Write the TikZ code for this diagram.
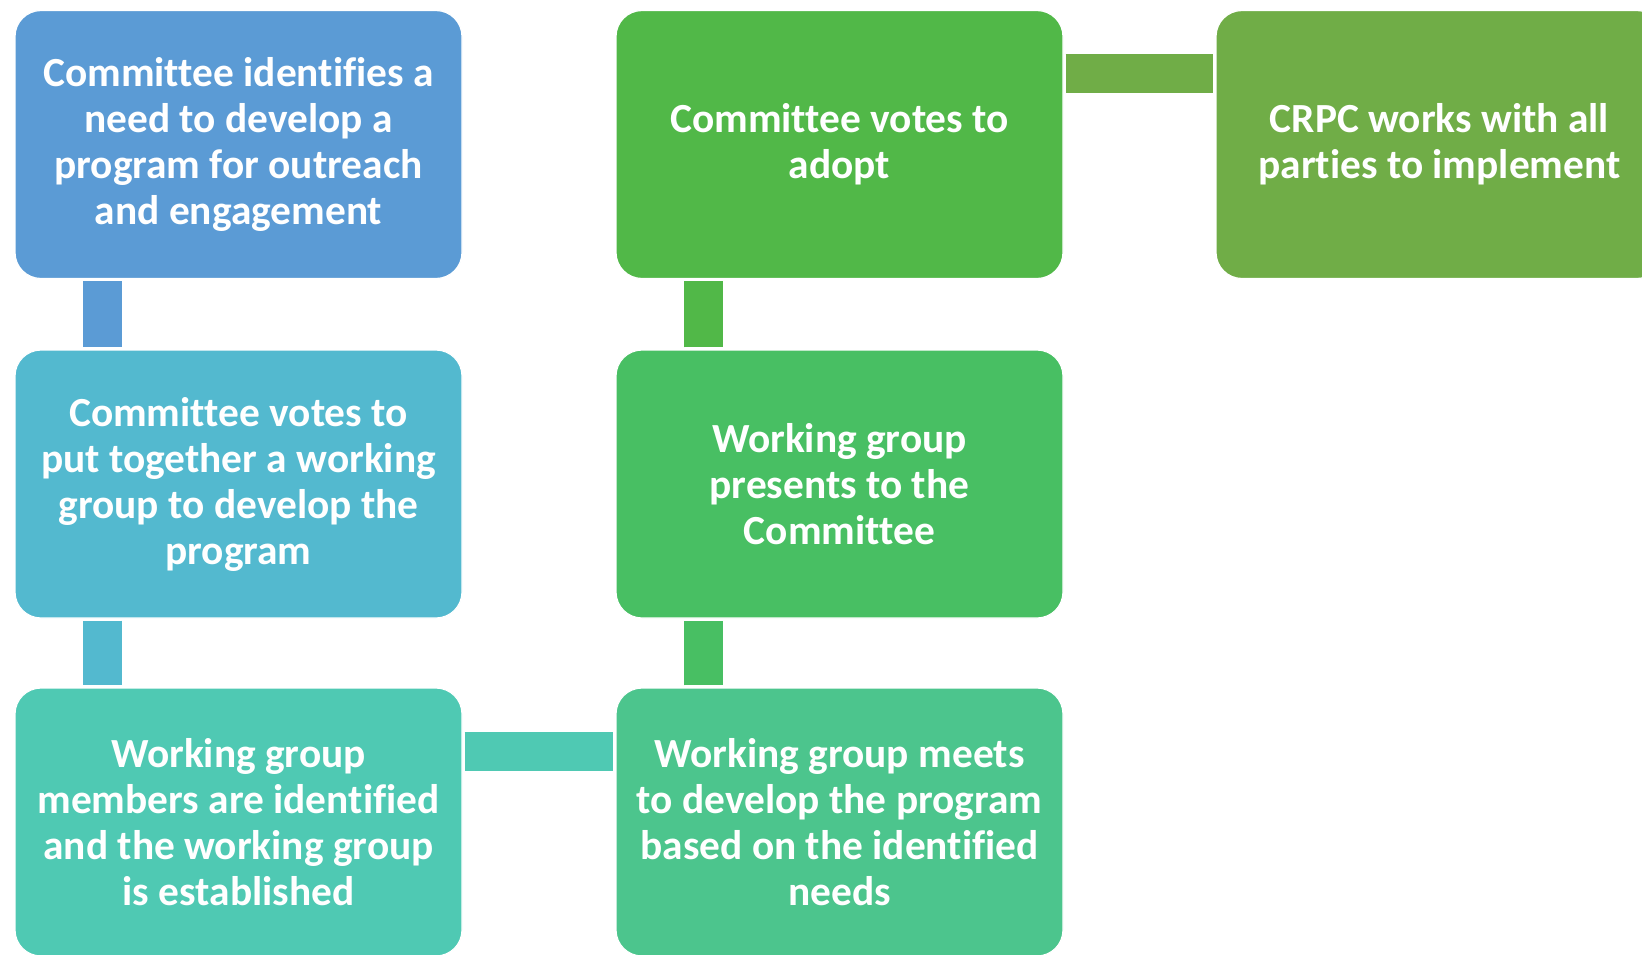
\documentclass[tikz,border=0pt]{standalone}
\usepackage{fontspec}
\setmainfont{Carlito}[Ligatures=CommonOff]

\definecolor{stepblue}{HTML}{5B9BD5}
\definecolor{stepcyan}{HTML}{53B9CF}
\definecolor{stepteal}{HTML}{4FC9B3}
\definecolor{stepmint}{HTML}{4CC58D}
\definecolor{stepgreen}{HTML}{48BF63}
\definecolor{steplime}{HTML}{51B848}
\definecolor{stepolive}{HTML}{70AD47}

\begin{document}
\begin{tikzpicture}[x=0.5pt, y=-0.5pt,
  font=\fontsize{20.7}{23}\selectfont\bfseries,
  stepbox/.style={rectangle, rounded corners=13pt, draw=white, line width=0.6pt,
    text=white, align=center, minimum width=223.5pt, minimum height=134pt, inner sep=0pt},
  link/.style={line width=19.5pt}]
  \useasboundingbox (0,0) rectangle (1642,954);

  \node[stepbox, fill=stepblue] (need) at (238.5,144.5)
    {Committee identifies a\\need to develop a\\program for outreach\\and engagement};
  \node[stepbox, fill=stepcyan] (vote) at (238.5,484)
    {Committee votes to\\put together a working\\group to develop the\\program};
  \node[stepbox, fill=stepteal] (members) at (238.5,822)
    {Working group\\members are identified\\and the working group\\is established};
  \node[stepbox, fill=stepmint] (meets) at (839.5,822)
    {Working group meets\\to develop the program\\based on the identified\\needs};
  \node[stepbox, fill=stepgreen] (presents) at (839.5,484)
    {Working group\\presents to the\\Committee};
  \node[stepbox, fill=steplime] (adopt) at (839.5,144.5)
    {Committee votes to\\adopt};
  \node[stepbox, fill=stepolive] (crpc) at (1439.5,144.5)
    {CRPC works with all\\parties to implement};

  % connecting bars
  \draw[link, stepblue] ([xshift=44pt, yshift=-1pt]need.south west)
    -- ([xshift=44pt, yshift=1pt]vote.north west);
  \draw[link, stepcyan] ([xshift=44pt, yshift=-1pt]vote.south west)
    -- ([xshift=44pt, yshift=1pt]members.north west);
  \draw[link, stepteal] ([xshift=1pt, yshift=-32pt]members.north east)
    -- ([xshift=-1pt, yshift=-32pt]meets.north west);
  \draw[link, stepgreen] ([xshift=44pt, yshift=1pt]meets.north west)
    -- ([xshift=44pt, yshift=-1pt]presents.south west);
  \draw[link, steplime] ([xshift=44pt, yshift=1pt]presents.north west)
    -- ([xshift=44pt, yshift=-1pt]adopt.south west);
  \draw[link, stepolive] ([xshift=1pt, yshift=-32pt]adopt.north east)
    -- ([xshift=-1pt, yshift=-32pt]crpc.north west);
\end{tikzpicture}
\end{document}
